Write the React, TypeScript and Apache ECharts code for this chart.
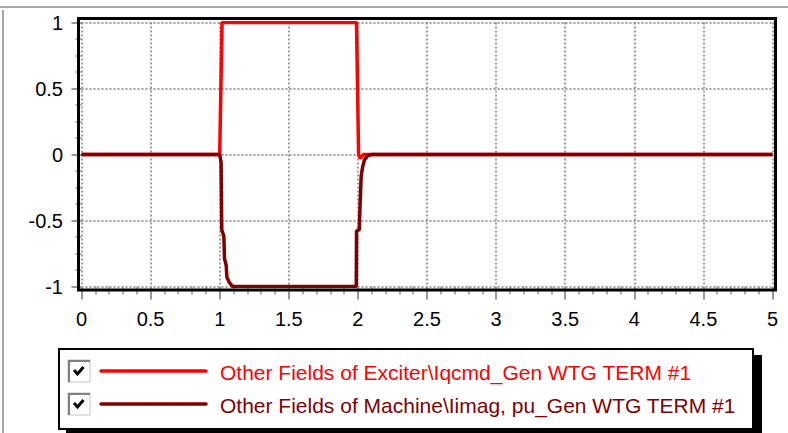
import React, { useEffect, useRef } from "react";
import * as echarts from "echarts";

const seriesNames = [
  "Other Fields of Exciter\\Iqcmd_Gen WTG TERM #1",
  "Other Fields of Machine\\Iimag, pu_Gen WTG TERM #1",
];
const seriesColors = ["#ff0000", "#800000"];

const iqcmd: [number, number][] = [
  [0, 0], [1.0, 0], [1.017, 1], [1.99, 1], [2.005, 0.0], [2.018, -0.03], [2.04, 0], [5, 0],
];
const iimag: [number, number][] = [
  [0, 0], [1.0, 0], [1.01, -0.06], [1.015, -0.57], [1.03, -0.62], [1.035, -0.79],
  [1.047, -0.84], [1.052, -0.93], [1.07, -0.97], [1.095, -1.0], [1.988, -1.0],
  [1.99, -0.58], [2.01, -0.57], [2.017, -0.34], [2.024, -0.16], [2.035, -0.09],
  [2.048, -0.04], [2.07, -0.01], [2.1, 0], [5, 0],
];

const xMin = 0, xMax = 5, xStep = 0.5;
const yMin = -1, yMax = 1, yStep = 0.5;

const FONT = "'Liberation Sans', Arial, sans-serif";

function checkbox(x: number, y: number) {
  return {
    type: "group",
    children: [
      { type: "rect", shape: { x, y, width: 22, height: 22 }, style: { fill: "#fff", stroke: "#d8d8d8", lineWidth: 1.5 } },
      { type: "polyline", shape: { points: [[x + 1, y + 22], [x + 1, y + 1], [x + 22, y + 1]] }, style: { stroke: "#808080", lineWidth: 2, fill: "none" } },
      { type: "polyline", shape: { points: [[x + 6, y + 10], [x + 9.5, y + 14], [x + 15.5, y + 7]] }, style: { stroke: "#000", lineWidth: 3, fill: "none" } },
    ],
  };
}

export default function App() {
  const ref = useRef<HTMLDivElement>(null);
  useEffect(() => {
    if (!ref.current) return;
    const chart = echarts.init(ref.current, null, { renderer: "svg" });
    const rows = [371, 404];
    const legendEls: any[] = [];
    seriesNames.forEach((name, i) => {
      legendEls.push(checkbox(68, rows[i] - 11));
      legendEls.push({
        type: "line",
        shape: { x1: 101, y1: rows[i], x2: 206, y2: rows[i] },
        style: { stroke: seriesColors[i], lineWidth: 3.5, lineCap: "round" },
      });
      legendEls.push({
        type: "text",
        x: 220,
        y: rows[i] + 1,
        style: { text: name, fill: seriesColors[i], font: `21px ${FONT}`, textVerticalAlign: "middle" },
      });
    });
    chart.setOption({
      animation: false,
      grid: { left: 81.5, right: 15.5, top: 22.5, bottom: 146.5 },
      xAxis: {
        type: "value",
        min: xMin,
        max: xMax,
        interval: xStep,
        axisLine: { show: false, onZero: false },
        axisTick: { show: true, length: 13, lineStyle: { color: "#999", width: 2 } },
        minorTick: { show: true, splitNumber: 5, length: 8, lineStyle: { color: "#999", width: 1.5 } },
        axisLabel: { color: "#000", fontSize: 20, fontFamily: FONT, margin: 22 },
        splitLine: { show: true, lineStyle: { color: "#808080", width: 1.5, type: [2, 2] } },
      },
      yAxis: {
        type: "value",
        min: yMin,
        max: yMax,
        interval: yStep,
        axisLine: { show: false, onZero: false },
        axisTick: { show: true, length: 10, lineStyle: { color: "#999", width: 2 } },
        minorTick: { show: true, splitNumber: 4, length: 6, lineStyle: { color: "#999", width: 1.5 } },
        axisLabel: { color: "#000", fontSize: 20, fontFamily: FONT, margin: 18.5 },
        splitLine: { show: true, lineStyle: { color: "#808080", width: 1.5, type: [2, 2] } },
      },
      series: [
        { type: "line", name: seriesNames[0], data: iqcmd, showSymbol: false, lineStyle: { color: seriesColors[0], width: 3.5 }, z: 2 },
        { type: "line", name: seriesNames[1], data: iimag, showSymbol: false, lineStyle: { color: seriesColors[1], width: 3.5 }, z: 3 },
      ],
      graphic: [
        { type: "line", shape: { x1: 0, y1: 7, x2: 788, y2: 7 }, style: { stroke: "#a6a6a6", lineWidth: 2 } },
        { type: "line", shape: { x1: 3, y1: 10, x2: 3, y2: 433 }, style: { stroke: "#a6a6a6", lineWidth: 2 } },
        { type: "rect", shape: { x: 78.5, y: 18.5, width: 697, height: 271.5 }, style: { fill: "none", stroke: "#000", lineWidth: 3 }, z: 10 },
        { type: "rect", shape: { x: 66, y: 355, width: 696, height: 80 }, style: { fill: "#000" } },
        { type: "rect", shape: { x: 59, y: 349, width: 694, height: 80 }, style: { fill: "#fff", stroke: "#000", lineWidth: 2 } },
        ...legendEls,
      ],
    });
    return () => chart.dispose();
  }, []);
  return <div ref={ref} style={{ width: 788, height: 433, position: "absolute", left: 0, top: 0 }} />;
}
